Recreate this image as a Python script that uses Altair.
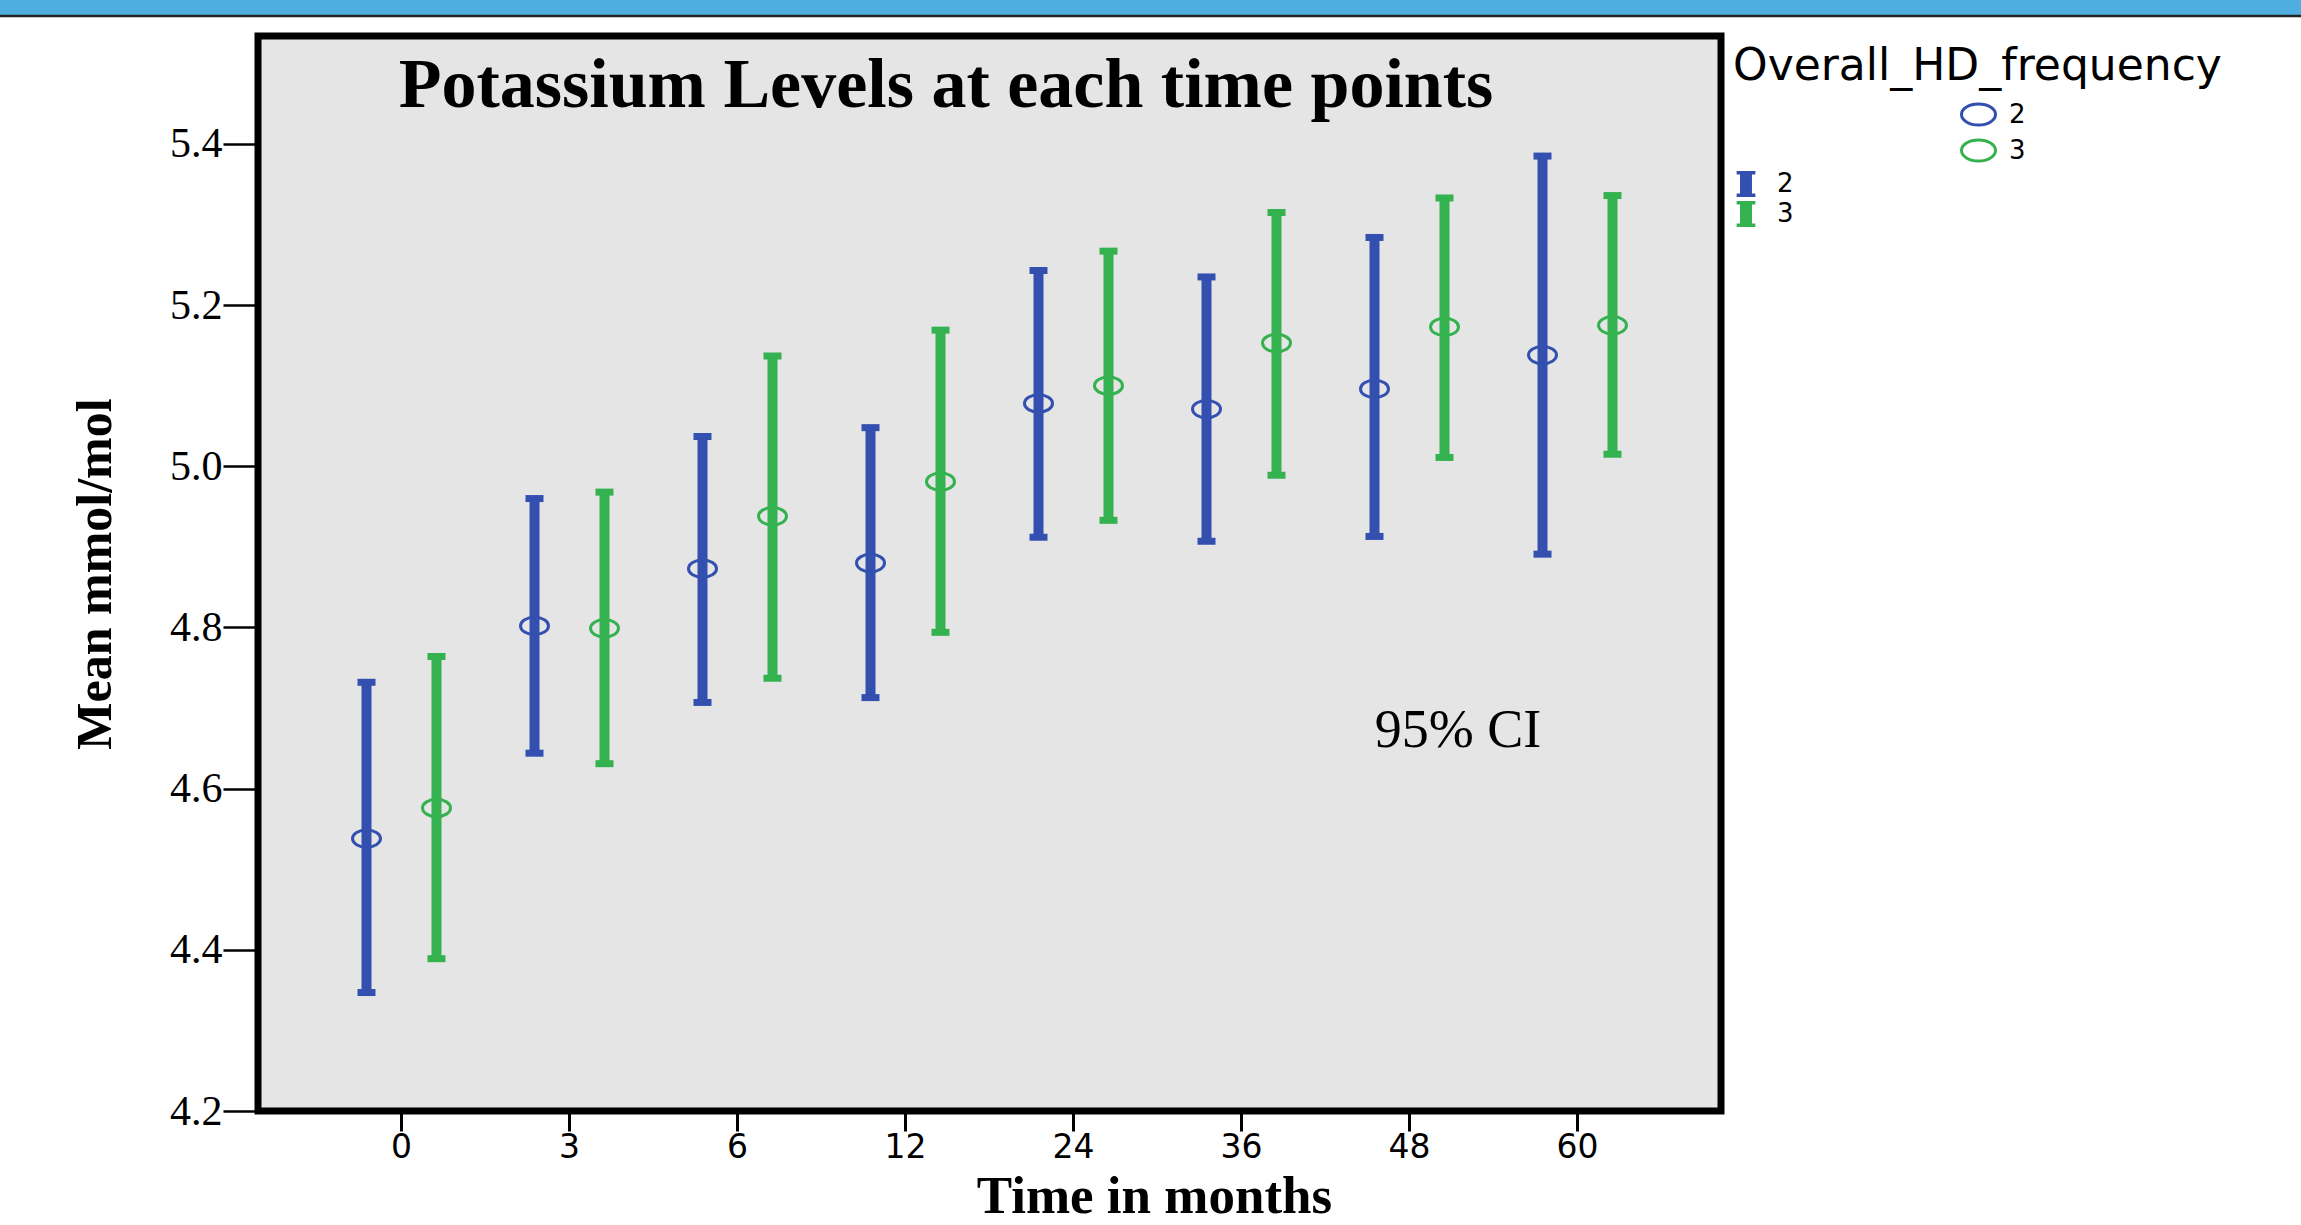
import altair as alt
import pandas as pd

# ---- data ----
time_labels = ["0", "3", "6", "12", "24", "36", "48", "60"]
group_labels = ["2", "3"]

mean_2 = [4.538, 4.802, 4.873, 4.880, 5.078, 5.071, 5.096, 5.138]
lo_2 = [4.347, 4.644, 4.707, 4.713, 4.912, 4.907, 4.913, 4.891]
hi_2 = [4.732, 4.960, 5.037, 5.048, 5.243, 5.235, 5.284, 5.385]

mean_3 = [4.576, 4.799, 4.938, 4.981, 5.100, 5.153, 5.173, 5.175]
lo_3 = [4.389, 4.631, 4.737, 4.794, 4.933, 4.989, 5.011, 5.015]
hi_3 = [4.764, 4.968, 5.137, 5.169, 5.267, 5.315, 5.333, 5.336]

y_ticks = [4.2, 4.4, 4.6, 4.8, 5.0, 5.2, 5.4]

colors = ["#3350B0", "#34B24F"]

rows = []
for i, t in enumerate(time_labels):
    rows.append(dict(time=t, group="2", mean=mean_2[i], lo=lo_2[i], hi=hi_2[i]))
    rows.append(dict(time=t, group="3", mean=mean_3[i], lo=lo_3[i], hi=hi_3[i]))
df = pd.DataFrame(rows)
# separate copies of the group field so that each legend stays independent
df["g_cap"] = df["group"]
df["g_pt"] = df["group"]

W, H = 1463, 1075
PAD_L, PAD_T = 258, 36

x_axis = alt.Axis(
    domain=False, grid=False, tickSize=20, tickWidth=3, tickColor="black",
    labelFont="DejaVu Sans", labelFontSize=33, labelColor="black", labelPadding=0,
    labelAngle=0,
    titleFont="Liberation Serif", titleFontSize=53, titleFontWeight="bold",
    titleColor="black", titleX=896, titleY=101.8, titleBaseline="alphabetic",
    titleAlign="center",
)
y_axis = alt.Axis(
    domain=False, grid=False, values=y_ticks, format=".1f", tickSize=35,
    tickWidth=2.5, tickColor="black",
    labelFont="Liberation Serif", labelFontSize=42, labelColor="black",
    labelPadding=1,
    titleFont="Liberation Serif", titleFontSize=50, titleFontWeight="bold",
    titleColor="black", titleX=-148, titleY=H / 2, titleBaseline="alphabetic",
    titleAlign="center", titleAngle=270,
)

x_enc = alt.X("time:N", sort=time_labels, title="Time in months", axis=x_axis,
              scale=alt.Scale(paddingInner=0.1667, paddingOuter=0.4375))
xoff_enc = alt.XOffset("group:N", sort=group_labels,
                       scale=alt.Scale(paddingInner=0, paddingOuter=0))
y_scale = alt.Scale(domain=[4.2, 5.534], nice=False, zero=False)


def y_enc(field):
    return alt.Y(f"{field}:Q", scale=y_scale, axis=y_axis, title="Mean mmol/mol")


ibeam = "M -0.72 -1 H 0.72 V -0.74 H 0.46 V 0.74 H 0.72 V 1 H -0.72 V 0.74 H -0.46 V -0.74 H -0.72 Z"
ellipse = "M -1 0 A 1 0.62 0 1 0 1 0 A 1 0.62 0 1 0 -1 0 Z"

bar_legend = alt.Legend(
    title="Overall_HD_frequency", titleFont="DejaVu Sans", titleFontSize=44,
    titleFontWeight="normal", titleColor="black", titlePadding=82, titleLimit=900,
    orient="none", legendX=1475, legendY=9, padding=0,
    symbolType=ibeam, symbolSize=676, symbolStrokeWidth=0,
    labelFont="DejaVu Sans", labelFontSize=26, labelColor="black",
    labelOffset=18, rowPadding=4,
)
circle_legend = alt.Legend(
    title=None, orient="none", legendX=1702, legendY=60, padding=0,
    symbolType=ellipse, symbolSize=1156, symbolStrokeWidth=3,
    labelFont="DejaVu Sans", labelFontSize=26, labelColor="black",
    labelOffset=12, rowPadding=-3,
)

base = alt.Chart(df).encode(x=x_enc, xOffset=xoff_enc)

stems = base.mark_rule(strokeWidth=10).encode(
    y=y_enc("lo"), y2="hi:Q",
    color=alt.Color("group:N", scale=alt.Scale(range=colors), legend=None),
)
caps_hi = base.mark_tick(size=18, thickness=7, opacity=1).encode(
    y=y_enc("hi"),
    fill=alt.Fill("g_cap:N", scale=alt.Scale(range=colors), legend=bar_legend),
)
caps_lo = base.mark_tick(size=18, thickness=7, opacity=1).encode(
    y=y_enc("lo"),
    fill=alt.Fill("g_cap:N", scale=alt.Scale(range=colors), legend=bar_legend),
)
points = base.mark_point(shape=ellipse, size=784, strokeWidth=3, filled=False,
                         opacity=1).encode(
    y=y_enc("mean"),
    stroke=alt.Stroke("g_pt:N", scale=alt.Scale(range=colors),
                      legend=circle_legend),
)

one = pd.DataFrame({"t": ["Potassium Levels at each time points"]})
title_text = alt.Chart(one).mark_text(
    font="Liberation Serif", fontSize=70, fontWeight="bold", color="black",
    align="center", baseline="alphabetic",
).encode(x=alt.value(688), y=alt.value(71), text="t:N")

ci = pd.DataFrame({"t": ["95% CI"]})
ci_text = alt.Chart(ci).mark_text(
    font="Liberation Serif", fontSize=54, color="black",
    align="center", baseline="alphabetic",
).encode(x=alt.value(1200), y=alt.value(711), text="t:N")

band = pd.DataFrame({"a": [0]})
banner = alt.Chart(band).mark_rect(color="#4FAEE0").encode(
    x=alt.value(-PAD_L), x2=alt.value(2301 - PAD_L),
    y=alt.value(-PAD_T), y2=alt.value(-PAD_T + 15),
)
banner_line = alt.Chart(band).mark_rule(color="#222222", strokeWidth=2.5).encode(
    x=alt.value(-PAD_L), x2=alt.value(2301 - PAD_L), y=alt.value(-PAD_T + 16),
)

chart = alt.layer(
    banner, banner_line, stems, caps_hi, caps_lo, points, title_text, ci_text
).properties(
    width=W, height=H,
    autosize=alt.AutoSizeParams(type="none"),
    padding={"left": PAD_L, "top": PAD_T, "right": 2301 - PAD_L - W,
             "bottom": 1225 - PAD_T - H},
    background="white",
).configure_view(
    fill="#E5E5E5", stroke="black", strokeWidth=7,
)

chart.save("out.html", embed_options={"renderer": "svg", "actions": False})
